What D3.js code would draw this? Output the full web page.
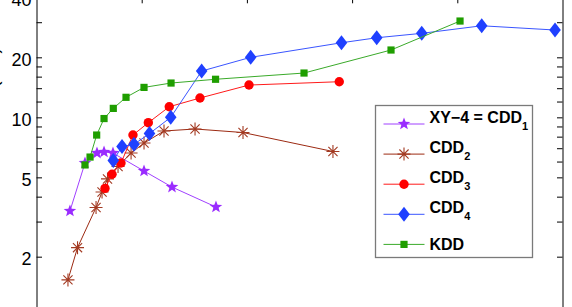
<html>
	<head>
		<style>
			body { margin: 0; background: #fff; }
			svg { display: block; font-family: "Liberation Sans", Arial, sans-serif; }
			.tick text { font-size: 18px; fill: #000; }
			.legendtext { font-size: 16px; font-weight: bold; }
		</style>
		<script src="https://d3js.org/d3.v7.min.js"></script>
	</head>
	<body>
		<svg width="572" height="307"></svg>
		<script>
			// values (x in axis units 0..5, y on a log axis)
			const seriesNames = ["XY\u22124 = CDD", "CDD", "CDD", "CDD", "KDD"];
			const seriesSubs = ["1", "2", "3", "4", ""];

			const xy4X = [0.318, 0.461, 0.575, 0.642, 0.727, 1.022, 1.288, 1.706];
			const xy4Y = [3.39, 5.90, 6.62, 6.70, 6.62, 5.38, 4.47, 3.55];

			const cdd2X = [0.299, 0.390, 0.566, 0.623, 0.675, 0.775, 0.899, 1.022, 1.212, 1.507, 1.963, 2.818];
			const cdd2Y = [1.53, 2.22, 3.53, 4.22, 4.91, 5.67, 6.62, 7.43, 8.54, 8.74, 8.39, 6.74];

			const cdd3X = [0.651, 0.718, 0.803, 0.917, 1.063, 1.262, 1.554, 2.020, 2.878];
			const cdd3Y = [4.40, 5.18, 5.90, 8.15, 9.40, 11.30, 12.50, 14.52, 15.09];

			const cdd4X = [0.730, 0.813, 0.927, 1.074, 1.276, 1.570, 2.036, 2.899, 3.234, 3.662, 4.232, 4.929];
			const cdd4Y = [6.07, 7.14, 7.32, 8.29, 10.0, 17.07, 20.0, 23.66, 25.07, 26.38, 28.79, 27.41];

			const kddX = [0.461, 0.509, 0.572, 0.642, 0.730, 0.851, 1.022, 1.279, 1.702, 2.543, 3.370, 4.026];
			const kddY = [5.77, 6.32, 8.15, 9.86, 11.09, 12.60, 14.13, 14.86, 15.52, 16.68, 21.76, 30.41];

			const yTicks = [2, 3, 4, 5, 6, 7, 8, 9, 10, 12, 14, 16, 18, 20, 30, 40];
			const yLabels = [2, 5, 10, 20, 40];
			const xTicks = [1, 2, 3, 4];

			const svg = d3.select("svg");
			const xs = d3.scaleLinear().domain([0, 5]).range([36.5, 562.5]);
			const ys = d3.scaleLog().domain([1, 40]).range([316.7, -2.7]);

			// marker shapes
			function starPath(r) {
				var p = [];
				for (var i = 0; i < 10; i++) {
					var a = -Math.PI / 2 + i * Math.PI / 5;
					var rr = i % 2 == 0 ? r : r * 0.42;
					p.push([rr * Math.cos(a), rr * Math.sin(a)]);
				}
				return "M" + p.map(d => d[0].toFixed(2) + "," + d[1].toFixed(2)).join("L") + "Z";
			}
			function asteriskPath(r) {
				var a = r * 0.707;
				return "M" + (-r) + ",0H" + r + "M0," + (-r) + "V" + r +
					"M" + (-a) + "," + (-a) + "L" + a + "," + a + "M" + (-a) + "," + a + "L" + a + "," + (-a);
			}
			const diamondPath = "M0,-7.5L5.8,0L0,7.5L-5.8,0Z";
			const squarePath = "M-3.6,-3.6H3.6V3.6H-3.6Z";

			const series = [
				{ xv: xy4X, yv: xy4Y, line: "#a040ff", fill: "#9a2cff", stroke: "none", shape: starPath(6.6) },
				{ xv: cdd2X, yv: cdd2Y, line: "#9c2a12", fill: "none", stroke: "#a33a22", shape: asteriskPath(6.5) },
				{ xv: cdd3X, yv: cdd3Y, line: "#ff1a1a", fill: "#ff0000", stroke: "none", shape: "circle" },
				{ xv: cdd4X, yv: cdd4Y, line: "#3a55ff", fill: "#1f40ff", stroke: "none", shape: diamondPath },
				{ xv: kddX, yv: kddY, line: "#3aaa2a", fill: "#1f9e00", stroke: "none", shape: squarePath }
			];

			function drawMarker(g, s, cx, cy) {
				if (s.shape == "circle") {
					g.append("circle").attr("cx", cx).attr("cy", cy).attr("r", 4.7).style("fill", s.fill);
				} else {
					g.append("path").attr("d", s.shape)
						.attr("transform", "translate(" + cx + "," + cy + ")")
						.style("fill", s.fill)
						.style("stroke", s.stroke)
						.style("stroke-width", 1.1);
				}
			}

			const plot = svg.append("g");
			series.forEach(s => {
				var pts = s.xv.map((v, i) => [xs(v), ys(s.yv[i])]);
				plot.append("path")
					.attr("d", d3.line()(pts))
					.style("fill", "none")
					.style("stroke", s.line)
					.style("stroke-width", 1);
				var mg = plot.append("g");
				pts.forEach(p => drawMarker(mg, s, p[0], p[1]));
			});

			// axes: ticks point inward
			svg.append("g")
				.attr("transform", "translate(36.5,0)")
				.call(d3.axisLeft(ys)
					.tickValues(yTicks)
					.tickSizeInner(-5.5)
					.tickSizeOuter(0)
					.tickPadding(5)
					.tickFormat(d => yLabels.indexOf(d) >= 0 ? d : ""))
				.call(g => g.selectAll("text").attr("dy", "0.43em"))
				.call(g => g.selectAll("line,path").style("stroke", "#000"));

			svg.append("g")
				.attr("transform", "translate(562.5,0)")
				.call(d3.axisRight(ys)
					.tickValues(yTicks)
					.tickSizeInner(-5.5)
					.tickSizeOuter(0)
					.tickFormat(""))
				.call(g => g.selectAll("line,path").style("stroke", "#000"));

			svg.append("g")
				.attr("transform", "translate(0," + ys(40) + ")")
				.call(d3.axisTop(xs)
					.tickValues(xTicks)
					.tickSizeInner(-6)
					.tickSizeOuter(0)
					.tickFormat(""))
				.call(g => g.selectAll("line,path").style("stroke", "#000"));

			// y axis title, mostly cut off at the left edge
			svg.append("text")
				.attr("transform", "translate(-1.8,47.5) rotate(-90)")
				.attr("text-anchor", "end")
				.style("font-size", "18px")
				.text("Time (sec)");

			// legend
			var legend = svg.append("g").attr("id", "legend");
			legend.append("rect")
				.attr("x", 375.5).attr("y", 105.5)
				.attr("width", 157).attr("height", 152)
				.style("fill", "#fff")
				.style("stroke", "#7a7a7a")
				.style("stroke-width", 1.3);

			series.forEach((s, i) => {
				var ly = 124 + i * 30.1;
				var item = legend.append("g");
				item.append("line")
					.attr("x1", 383.5).attr("x2", 424.5)
					.attr("y1", ly).attr("y2", ly)
					.style("stroke", s.line);
				drawMarker(item, s, 404, ly);
				var t = item.append("text")
					.attr("class", "legendtext")
					.attr("x", 429.5)
					.attr("y", seriesSubs[i] ? ly - 1 : ly + 5.7)
					.text(seriesNames[i]);
				if (seriesSubs[i]) {
					t.append("tspan")
						.attr("dy", 7)
						.style("font-size", "11px")
						.text(seriesSubs[i]);
				}
			});
		</script>
	</body>
</html>
